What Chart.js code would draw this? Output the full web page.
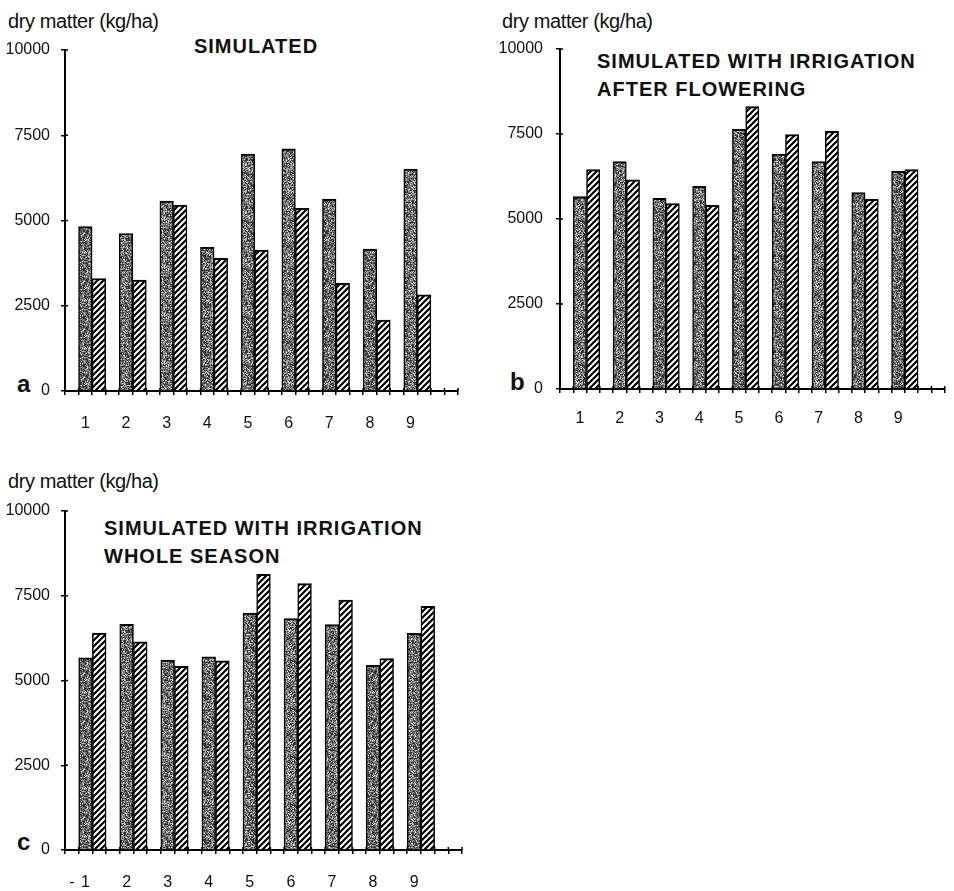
<!DOCTYPE html>
<html>
<head>
<meta charset="utf-8">
<script src="https://cdn.jsdelivr.net/npm/chart.js@4/dist/chart.umd.min.js"></script>
<style>
  html, body { margin: 0; padding: 0; background: #fff; width: 954px; height: 891px; overflow: hidden; }
  canvas { position: absolute; }
  .ylab { position: absolute; font: 20px 'Liberation Sans', Arial, sans-serif; letter-spacing: -0.4px; line-height: 20px; color: #111; white-space: nowrap; }
  .ttl { position: absolute; font: bold 20px 'Liberation Sans', Arial, sans-serif; letter-spacing: 1px; line-height: 28px; color: #111; white-space: nowrap; }
  .tag { position: absolute; font: bold 24px 'Liberation Sans', Arial, sans-serif; line-height: 24px; color: #111; }
</style>
</head>
<body>
<div class="ylab" style="left:8px; top:11px;">dry matter (kg/ha)</div>
<div class="ylab" style="left:502px; top:11px;">dry matter (kg/ha)</div>
<div class="ylab" style="left:8px; top:471px;">dry matter (kg/ha)</div>

<div class="ttl" style="left:156px; width:200px; text-align:center; top:32px;">SIMULATED</div>
<div class="ttl" style="left:597px; top:47px;">SIMULATED WITH IRRIGATION<br>AFTER FLOWERING</div>
<div class="ttl" style="left:104px; top:514px;">SIMULATED WITH IRRIGATION<br>WHOLE SEASON</div>

<div class="tag" style="left:17px; top:372px;">a</div>
<div class="tag" style="left:510px; top:370px;">b</div>
<div class="tag" style="left:17px; top:830px;">c</div>

<canvas id="panelA" width="477" height="440" style="left:0; top:0;"></canvas>
<canvas id="panelB" width="474" height="440" style="left:480px; top:0;"></canvas>
<canvas id="panelC" width="477" height="451" style="left:0; top:440px;"></canvas>

<script>
// Sites / seasons along the x axis
const groups = ['1', '2', '3', '4', '5', '6', '7', '8', '9'];

// Dry matter (kg/ha) per site, stippled and hatched bars
const simulatedDark   = [4820, 4620, 5570, 4210, 6950, 7100, 5630, 4160, 6510];
const simulatedHatch  = [3300, 3250, 5450, 3890, 4130, 5360, 3160, 2080, 2820];

const flowerIrrDark   = [5660, 6690, 5610, 5960, 7640, 6910, 6690, 5780, 6400];
const flowerIrrHatch  = [6450, 6150, 5450, 5400, 8310, 7480, 7580, 5580, 6450];

const seasonIrrDark   = [5670, 6660, 5600, 5700, 6990, 6830, 6650, 5450, 6390];
const seasonIrrHatch  = [6400, 6140, 5420, 5580, 8130, 7860, 7370, 5650, 7190];

// Value axis
const yTicks = [0, 2500, 5000, 7500, 10000];

// Each site takes three slots on the axis: stippled bar, hatched bar, gap.
// A leading gap slot and two trailing slots complete the axis.
const SLOTS = 29;

function slotLabels(leading) {
  const out = new Array(SLOTS).fill('');
  groups.forEach((g, i) => { out[3 * i + 1] = g; });
  if (leading) out[0] = leading;
  return out;
}

function slotValues(vals, offset) {
  const out = new Array(SLOTS).fill(null);
  vals.forEach((v, i) => { out[3 * i + offset] = v; });
  return out;
}

// Grainy grey screen used for the solid bars
function stipple() {
  const c = document.createElement('canvas');
  c.width = c.height = 48;
  const g = c.getContext('2d');
  const img = g.createImageData(48, 48);
  let s = 20231;
  const next = () => { s = (s * 1103515245 + 12345) & 0x7fffffff; return s / 0x7fffffff; };
  for (let i = 0; i < 48 * 48; i++) {
    const r = next();
    const v = r < 0.34 ? 50 : r < 0.68 ? 115 : r < 0.90 ? 165 : 225;
    img.data[i * 4] = img.data[i * 4 + 1] = img.data[i * 4 + 2] = v;
    img.data[i * 4 + 3] = 255;
  }
  g.putImageData(img, 0, 0);
  return g.createPattern(c, 'repeat');
}

// Diagonal line hatching
function hatch() {
  const c = document.createElement('canvas');
  c.width = c.height = 6;
  const g = c.getContext('2d');
  g.fillStyle = '#fff';
  g.fillRect(0, 0, 6, 6);
  g.strokeStyle = '#000';
  g.lineWidth = 2.2;
  g.beginPath();
  g.moveTo(-1, 7); g.lineTo(7, -1);
  g.moveTo(-1, 1); g.lineTo(1, -1);
  g.moveTo(5, 7); g.lineTo(7, 5);
  g.stroke();
  return g.createPattern(c, 'repeat');
}

const dotFill = stipple();
const lineFill = hatch();

const tickFont = { family: "'Liberation Sans', Arial, sans-serif", size: 16 };

// Axis ticks that cross the axis line
const crossTicks = {
  id: 'crossTicks',
  afterDraw(chart) {
    const { ctx, chartArea: a, scales: { x, y } } = chart;
    ctx.save();
    ctx.strokeStyle = '#000';
    ctx.lineWidth = 1.5;
    ctx.beginPath();
    for (let i = 0; i <= x.ticks.length; i++) {
      const px = x.getPixelForValue(i - 0.5);
      ctx.moveTo(px, a.bottom);
      ctx.lineTo(px, a.bottom - 3);
    }
    yTicks.forEach(v => {
      const py = y.getPixelForValue(v);
      ctx.moveTo(a.left, py);
      ctx.lineTo(a.left + 3, py);
    });
    ctx.stroke();
    ctx.restore();
  }
};

function panel(id, dark, hatched, geo) {
  const barStyle = {
    borderColor: '#000',
    borderWidth: { top: 2, left: 1.5, right: 1.5, bottom: 0 },
    borderSkipped: false,
    barPercentage: 1,
    categoryPercentage: 1
  };
  return new Chart(document.getElementById(id), {
    type: 'bar',
    data: {
      labels: slotLabels(geo.leading),
      datasets: [
        Object.assign({ data: slotValues(dark, 1), backgroundColor: dotFill }, barStyle),
        Object.assign({ data: slotValues(hatched, 2), backgroundColor: lineFill }, barStyle)
      ]
    },
    options: {
      responsive: false,
      animation: false,
      devicePixelRatio: 1,
      layout: { padding: { top: geo.top, right: geo.right, left: 0, bottom: 0 } },
      plugins: { legend: { display: false }, tooltip: { enabled: false } },
      datasets: { bar: { grouped: false } },
      scales: {
        x: {
          type: 'category',
          offset: true,
          grid: { display: true, offset: true, drawOnChartArea: false, drawTicks: true, tickLength: 4, color: '#000', lineWidth: 1.5 },
          border: { display: true, color: '#000', width: 2 },
          ticks: { autoSkip: false, maxRotation: 0, minRotation: 0, padding: geo.xpad, font: tickFont, color: '#111' },
          afterFit(s) { s.height = geo.xh; }
        },
        y: {
          min: 0,
          max: 10000,
          afterBuildTicks(s) { s.ticks = yTicks.map(v => ({ value: v })); },
          grid: { display: true, drawOnChartArea: false, drawTicks: true, tickLength: 4, color: '#000', lineWidth: 1.5 },
          border: { display: true, color: '#000', width: 2 },
          ticks: { padding: geo.ypad, font: tickFont, color: '#111', callback: v => String(v) },
          afterFit(s) { s.width = geo.yw; }
        }
      }
    },
    plugins: [crossTicks]
  });
}

panel('panelA', simulatedDark, simulatedHatch, { top: 50, right: 19, xh: 49, yw: 65, ypad: 11, xpad: 19 });
panel('panelB', flowerIrrDark, flowerIrrHatch, { top: 49, right: 0, xh: 51, yw: 80, ypad: 13, xpad: 16 });
panel('panelC', seasonIrrDark, seasonIrrHatch, { top: 71, right: 15, xh: 41, yw: 65, ypad: 11, xpad: 19, leading: '-' });
</script>
</body>
</html>
